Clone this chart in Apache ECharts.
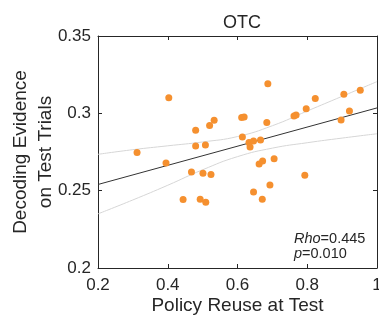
<!DOCTYPE html>
<html>
<head>
<meta charset="utf-8">
<script src="https://cdn.jsdelivr.net/npm/echarts@6/dist/echarts.min.js"></script>
<style>
  html, body { margin: 0; padding: 0; background: #fff; }
  #chart { width: 379px; height: 320px; }
</style>
</head>
<body>
<div id="chart"></div>
<script>
// scatter points
const policyReuse = [
  0.312, 0.403, 0.395, 0.444, 0.468, 0.480, 0.480, 0.493, 0.501, 0.508,
  0.509, 0.520, 0.524, 0.533, 0.612, 0.619, 0.614, 0.636, 0.633, 0.646,
  0.666, 0.684, 0.687, 0.662, 0.672, 0.705, 0.646, 0.671, 0.693, 0.762,
  0.768, 0.797, 0.823, 0.793, 0.897, 0.905, 0.921, 0.952
];
const decodingEvidence = [
  0.2747, 0.3100, 0.2679, 0.2443, 0.2621, 0.2891, 0.2789, 0.2444, 0.2612, 0.2796,
  0.2425, 0.2921, 0.2604, 0.2955, 0.2973, 0.2976, 0.2847, 0.2783, 0.2812, 0.2821,
  0.2828, 0.2941, 0.3192, 0.2672, 0.2692, 0.2706, 0.2491, 0.2444, 0.2536, 0.2983,
  0.2989, 0.3030, 0.3096, 0.2600, 0.2957, 0.3123, 0.3015, 0.3149
];

// regression line and confidence band
const fitX = [0.2, 1.0];
const fitY = [0.254, 0.3035];
const ciX = [0.2, 0.3, 0.4, 0.5, 0.6, 0.7, 0.8, 0.9, 1.0];
const ciUpper = [0.2735, 0.2765, 0.2790, 0.2815, 0.2850, 0.2920, 0.3015, 0.3110, 0.3205];
const ciLower = [0.2350, 0.2440, 0.2535, 0.2635, 0.2720, 0.2775, 0.2810, 0.2840, 0.2868];

const rhoText = '0.445';
const pText = '0.010';

const axisColor = '#262626';
const font = 'Liberation Sans, Arial, Helvetica, sans-serif';

const zip = (a, b) => a.map((v, i) => [v, b[i]]);

const chart = echarts.init(document.getElementById('chart'));

const frameAxis = {
  axisLine: {show: true, lineStyle: {color: axisColor, width: 1}},
  axisTick: {show: true, inside: true, length: 4, lineStyle: {color: axisColor}},
  splitLine: {show: false},
};

chart.setOption({
  animation: false,
  title: {
    text: 'OTC',
    left: 237, top: 9, textAlign: 'center',
    textStyle: {fontFamily: font, fontSize: 18, fontWeight: 'normal', color: axisColor}
  },
  grid: {left: 98, right: 2, top: 36, bottom: 52, outerBoundsMode: 'none', containLabel: false},
  xAxis: [{
    type: 'value', min: 0.2, max: 1, interval: 0.2,
    ...frameAxis,
    axisLabel: {fontFamily: font, fontSize: 17, color: axisColor, margin: 9},
    name: 'Policy Reuse at Test',
    nameLocation: 'middle', nameGap: 28, nameMoveOverlap: false,
    nameTextStyle: {fontFamily: font, fontSize: 19, color: axisColor}
  }, {
    type: 'value', min: 0.2, max: 1, interval: 0.2, position: 'top',
    ...frameAxis,
    axisLabel: {show: false}
  }],
  yAxis: [{
    type: 'value', min: 0.2, max: 0.35, interval: 0.05,
    ...frameAxis,
    axisLabel: {fontFamily: font, fontSize: 17, color: axisColor, margin: 7},
    name: 'Decoding Evidence\non Test Trials',
    nameLocation: 'middle', nameGap: 40, nameMoveOverlap: false,
    nameTextStyle: {fontFamily: font, fontSize: 19, color: axisColor, lineHeight: 25}
  }, {
    type: 'value', min: 0.2, max: 0.35, interval: 0.05, position: 'right',
    ...frameAxis,
    axisLabel: {show: false}
  }],
  graphic: [{
    type: 'text',
    left: 294, top: 231,
    style: {
      text: '{i|Rho}=' + rhoText + '\n{i|p}=' + pText,
      font: '14.5px ' + font,
      fill: axisColor,
      lineHeight: 15,
      rich: {i: {fontStyle: 'italic', fontFamily: font, fontSize: 14.5, fill: axisColor}}
    }
  }],
  series: [{
    type: 'line', data: zip(ciX, ciUpper), smooth: true, showSymbol: false,
    lineStyle: {color: '#d6d6d6', width: 1}, z: 1
  }, {
    type: 'line', data: zip(ciX, ciLower), smooth: true, showSymbol: false,
    lineStyle: {color: '#d6d6d6', width: 1}, z: 1
  }, {
    type: 'line', data: zip(fitX, fitY), showSymbol: false,
    lineStyle: {color: '#333333', width: 1}, z: 2
  }, {
    type: 'scatter', data: zip(policyReuse, decodingEvidence),
    symbolSize: 7,
    itemStyle: {color: '#f5902f', opacity: 1}, z: 3
  }]
});
</script>
</body>
</html>
